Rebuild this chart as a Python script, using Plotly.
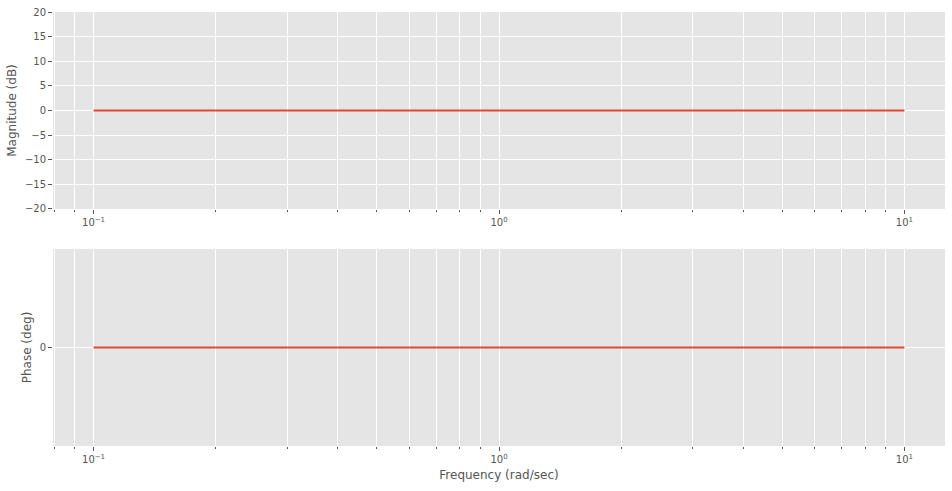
import plotly.graph_objects as go
from plotly.subplots import make_subplots

# Data
freq = [0.1, 1.0, 10.0]
magnitude_db = [0.0, 0.0, 0.0]
phase_deg = [0.0, 0.0, 0.0]

major_ticks = [0.1, 1, 10]
major_labels = ["10<sup>\u22121</sup>", "10<sup>0</sup>", "10<sup>1</sup>"]
minor_ticks = [0.08, 0.09, 0.2, 0.3, 0.4, 0.5, 0.6, 0.7, 0.8, 0.9,
               2, 3, 4, 5, 6, 7, 8, 9]
mag_ticks = [-20, -15, -10, -5, 0, 5, 10, 15, 20]
mag_labels = ["\u221220", "\u221215", "\u221210", "\u22125", "0", "5", "10", "15", "20"]

LINE = "#E24A33"
TXT = "#555555"
BG = "#E5E5E5"

fig = make_subplots(rows=2, cols=1, vertical_spacing=0.0922)
fig.add_trace(go.Scatter(x=freq, y=magnitude_db, mode="lines",
                         line=dict(color=LINE, width=2), showlegend=False), row=1, col=1)
fig.add_trace(go.Scatter(x=freq, y=phase_deg, mode="lines",
                         line=dict(color=LINE, width=2), showlegend=False), row=2, col=1)

xcommon = dict(type="log", range=[-1.1, 1.1], tickmode="array", tickvals=major_ticks,
               ticktext=major_labels, showgrid=True, gridcolor="white", gridwidth=1,
               ticks="outside", ticklen=4, tickwidth=1, tickcolor=TXT,
               tickfont=dict(family="DejaVu Sans", size=10, color=TXT),
               showline=False, zeroline=False,
               minor=dict(tickmode="array", tickvals=minor_ticks, showgrid=True,
                          gridcolor="white", gridwidth=1, ticks="outside",
                          ticklen=2, tickwidth=0.8, tickcolor=TXT))
fig.update_xaxes(**xcommon)
fig.update_xaxes(title=dict(text="Frequency (rad/sec)",
                            font=dict(family="DejaVu Sans", size=12, color=TXT),
                            standoff=6), row=2, col=1)

ycommon = dict(showgrid=True, gridcolor="white", gridwidth=1, ticks="outside",
               ticklen=4, tickwidth=1, tickcolor=TXT, zeroline=False, showline=False,
               tickfont=dict(family="DejaVu Sans", size=10, color=TXT))
fig.update_yaxes(**ycommon)
fig.update_yaxes(range=[-20, 20], tickmode="array", tickvals=mag_ticks, ticktext=mag_labels,
                 title=dict(text="Magnitude (dB)",
                            font=dict(family="DejaVu Sans", size=12, color=TXT), standoff=5),
                 row=1, col=1)
fig.update_yaxes(range=[-0.055, 0.055], tickmode="array", tickvals=[0], ticktext=["0"],
                 title=dict(text="Phase (deg)",
                            font=dict(family="DejaVu Sans", size=12, color=TXT), standoff=5),
                 row=2, col=1)

fig.update_layout(width=952, height=491, paper_bgcolor="white", plot_bgcolor=BG,
                  margin=dict(l=53, r=7, t=12, b=45, autoexpand=False),
                  font=dict(family="DejaVu Sans", color=TXT))
fig.write_html("out.html", config={"displayModeBar": False},
               post_script="document.body.style.margin='0';document.body.style.overflow='hidden';")
